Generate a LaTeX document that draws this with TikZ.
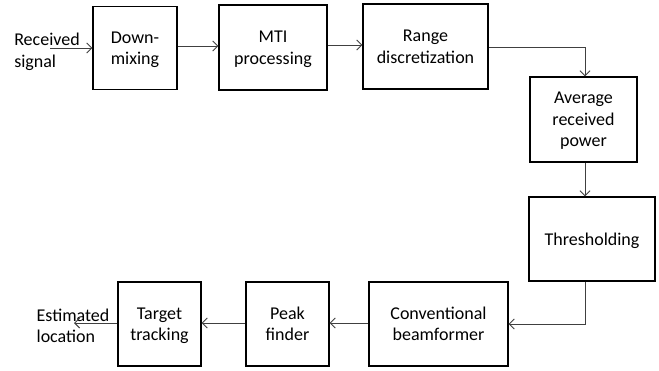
\documentclass[tikz,border=0pt]{standalone}
\usepackage{fontspec}
\setmainfont{Carlito}
\usetikzlibrary{arrows.meta,calc}
\begin{document}
\begin{tikzpicture}[x=1pt,y=1pt,
  blk/.style={draw=black,line width=1.3pt,align=center,inner sep=0pt,
    text depth=-4pt,font=\fontsize{18}{21.5}\selectfont},
  lbl/.style={align=left,inner sep=0pt,font=\fontsize{18}{21.5}\selectfont},
  conn/.style={draw=black!75,line width=0.9pt,-{Straight Barb[length=5pt,width=10pt,line width=0.9pt]}}]
\useasboundingbox (0,0) rectangle (659,370);
% nodes (y = 370 - pixel y)
\node[blk,minimum width=84,minimum height=83] (dm) at (135,322) {Down-\\mixing};
\node[blk,minimum width=108,minimum height=85] (mti) at (273,322.5) {MTI\\processing};
\node[blk,minimum width=125,minimum height=85] (rd) at (425.5,323.5) {Range\\discretization};
\node[blk,minimum width=107,minimum height=85] (avg) at (583.5,250.5) {Average\\received\\power};
\node[blk,minimum width=126,minimum height=84] (th) at (592,131) {Thresholding};
\node[blk,minimum width=139,minimum height=84] (cb) at (438.5,46) {Conventional\\beamformer};
\node[blk,minimum width=83,minimum height=84] (pf) at (287.5,46) {Peak\\finder};
\node[blk,minimum width=83,minimum height=84] (tt) at (159.5,46) {Target\\tracking};
\node[lbl] (rs) at (47,318) {Received\\signal};
\node[lbl] (el) at (73,44) {Estimated\\location};
\coordinate (rsin) at (50,322);
\coordinate (elout) at (74,46);
% connectors
\draw[conn] (rsin) -- (rsin-|dm.west);
\draw[conn] (dm.east|-0,324) -- (mti.west|-0,324);
\draw[conn] (mti.east|-0,325) -- (rd.west|-0,325);
\draw[conn] (rd.east|-0,323) -| (585,0|-avg.north);
\draw[conn] (585,0|-avg.south) -- (585,0|-th.north);
\draw[conn] (585,0|-th.south) |- (cb.east|-0,46);
\draw[conn] (cb.west|-0,47) -- (pf.east|-0,47);
\draw[conn] (pf.west|-0,47) -- (tt.east|-0,47);
\draw[conn] (tt.west|-0,47) -- (elout|-0,47);
\end{tikzpicture}
\end{document}
